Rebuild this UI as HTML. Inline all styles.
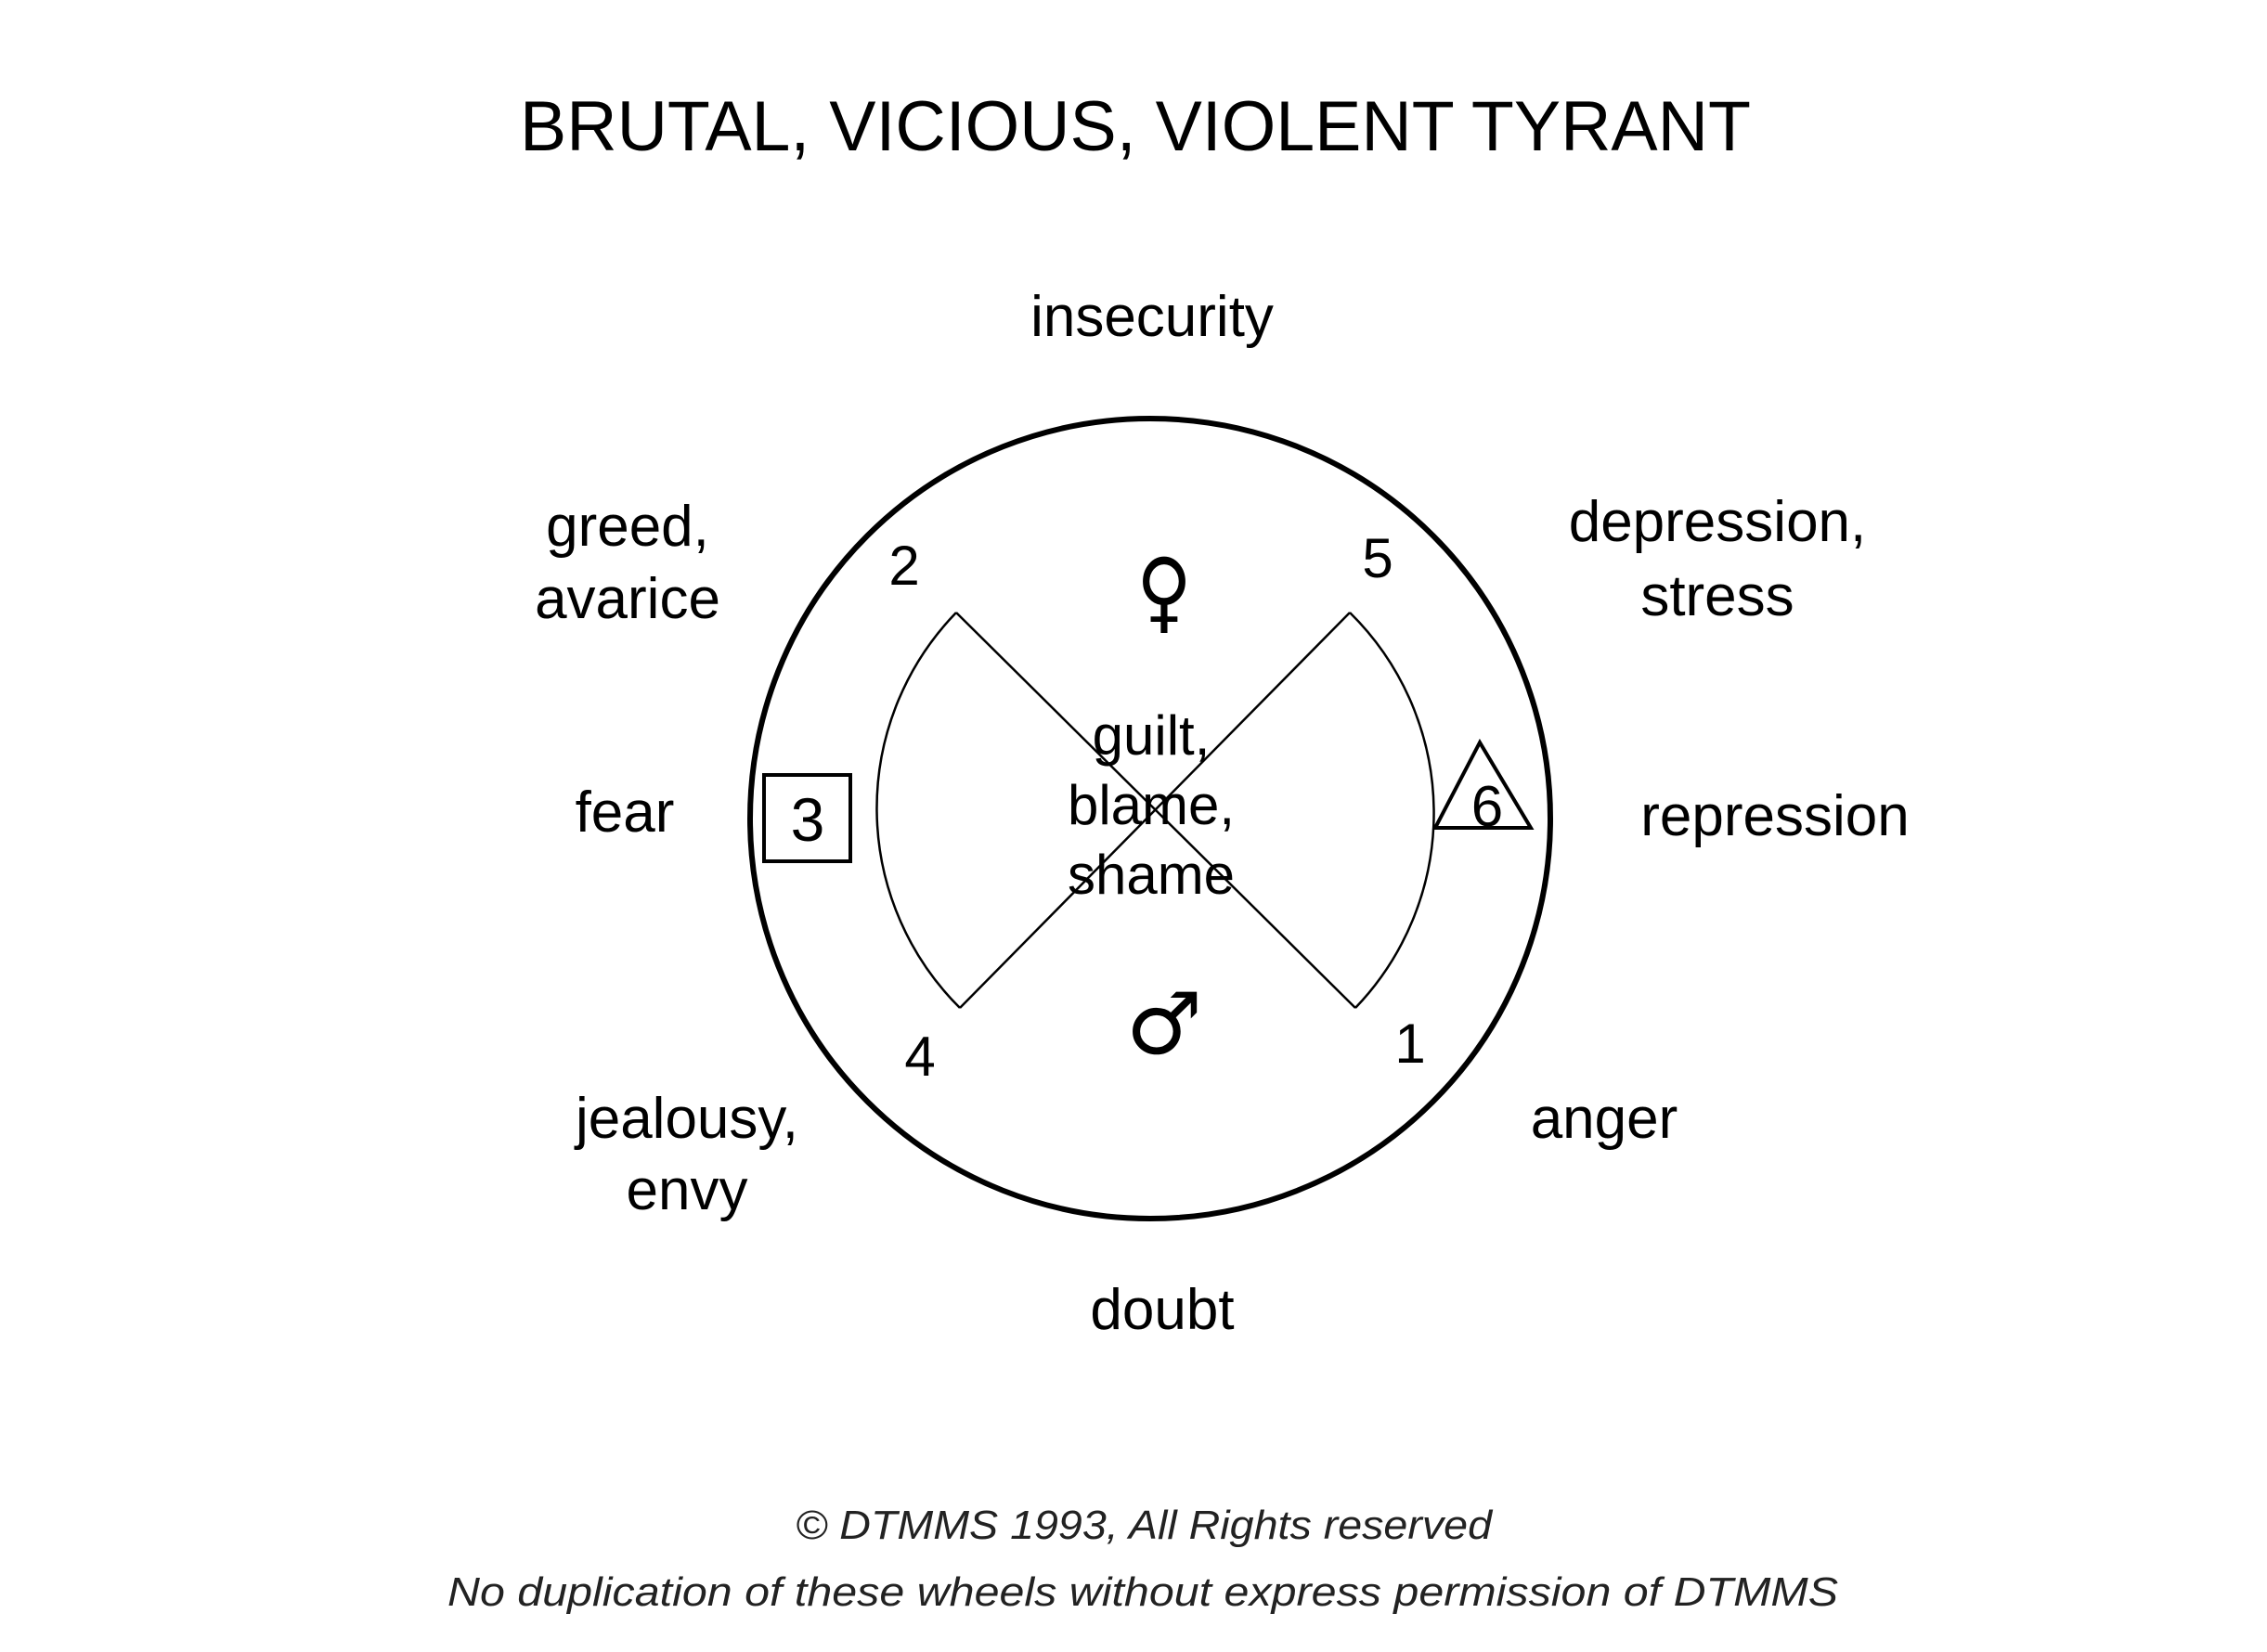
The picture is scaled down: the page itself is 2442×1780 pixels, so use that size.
<!DOCTYPE html>
<html><head><meta charset="utf-8"><style>html,body{margin:0;padding:0;background:#fff}svg{display:block}</style></head>
<body>
<svg width="2442" height="1780" viewBox="0 0 2442 1780" xmlns="http://www.w3.org/2000/svg">
<rect width="2442" height="1780" fill="#fff"/>
<text x="1223" y="162" font-family="Liberation Sans, sans-serif" font-size="76" text-anchor="middle" textLength="1326" lengthAdjust="spacingAndGlyphs" fill="#000">BRUTAL, VICIOUS, VIOLENT TYRANT</text>

<g fill="none" stroke="#000">
<circle cx="1239" cy="882" r="431" stroke-width="6"/>
<line x1="1030" y1="660" x2="1460" y2="1086" stroke-width="2.5"/>
<line x1="1454" y1="660" x2="1034" y2="1086" stroke-width="2.5"/>
<path d="M1030 660 A303 303 0 0 0 1034 1086" stroke-width="2.5"/>
<path d="M1454 660 A303 303 0 0 1 1460 1086" stroke-width="2.5"/>
<rect x="823" y="835" width="93" height="93" stroke-width="4"/>
<polygon points="1594,800 1546,892 1649,892" stroke-width="4"/>
</g>

<g font-family="Liberation Sans, sans-serif" fill="#000" text-anchor="middle">
<text x="1241" y="362" font-size="62">insecurity</text>
<text x="676" y="588" font-size="62">greed,</text>
<text x="676" y="666" font-size="62">avarice</text>
<text x="1850" y="583" font-size="62">depression,</text>
<text x="1850" y="663" font-size="62">stress</text>
<text x="673" y="896" font-size="62">fear</text>
<text x="1912" y="900" font-size="62">repression</text>
<text x="740" y="1226" font-size="62">jealousy,</text>
<text x="740" y="1303" font-size="62">envy</text>
<text x="1728" y="1226" font-size="62">anger</text>
<text x="1252" y="1432" font-size="62">doubt</text>

<text x="1240" y="813" font-size="60">guilt,</text>
<text x="1240" y="888" font-size="60">blame,</text>
<text x="1240" y="963" font-size="60">shame</text>

<text x="974" y="630" font-size="60">2</text>
<text x="1484" y="622" font-size="60">5</text>
<text x="991" y="1159" font-size="60">4</text>
<text x="1519" y="1145" font-size="60">1</text>
<text x="870" y="906" font-size="66">3</text>
<text x="1602" y="890" font-size="62">6</text>
<text x="1254" y="670" font-size="96" font-family="DejaVu Sans, sans-serif" transform="translate(1254 0) scale(0.85 1) translate(-1254 0)">♀</text>
<text x="1254" y="1135" font-size="92" font-family="DejaVu Sans, sans-serif">♂</text>
</g>

<g font-family="Liberation Sans, sans-serif" font-style="italic" fill="#222" text-anchor="middle" font-size="44">
<text x="1232" y="1658" textLength="750" lengthAdjust="spacingAndGlyphs">© DTMMS 1993, All Rights reserved</text>
<text x="1231" y="1730" textLength="1498" lengthAdjust="spacingAndGlyphs">No duplication of these wheels without express permission of DTMMS</text>
</g>
</svg>
</body></html>
